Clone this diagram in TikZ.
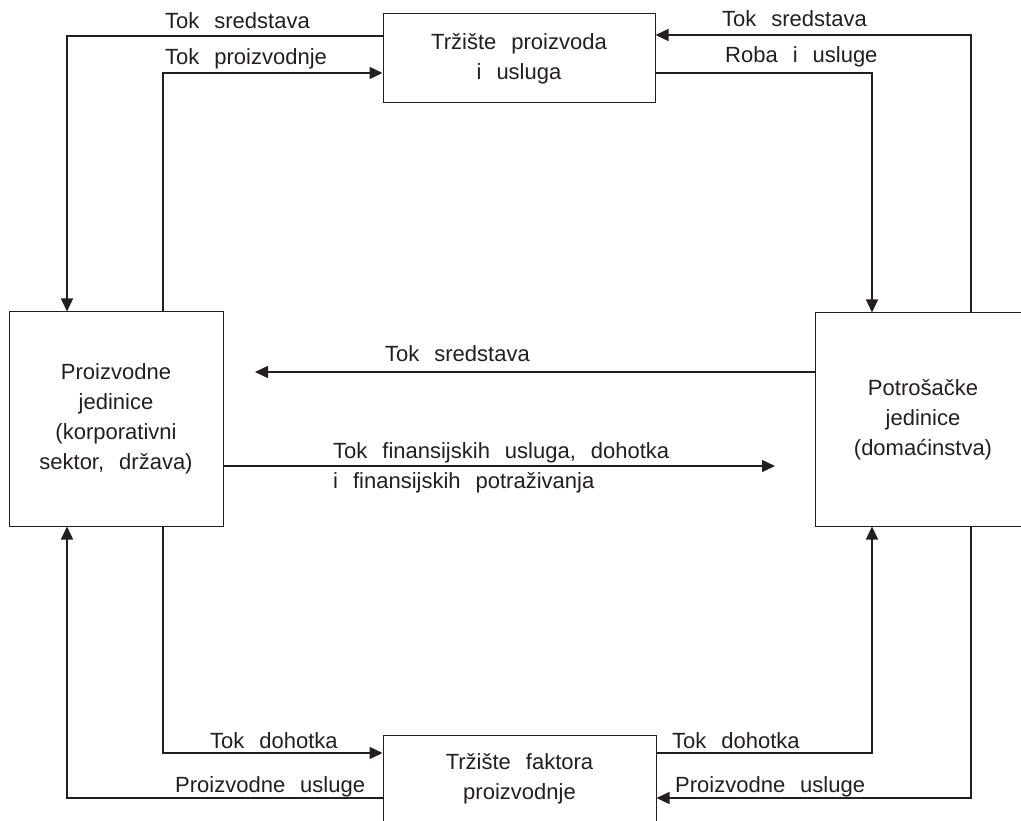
\documentclass[tikz,border=0pt]{standalone}
\usepackage{fontspec}
\setmainfont{Liberation Sans}
\usetikzlibrary{arrows.meta}
\definecolor{ink}{RGB}{35,31,32}
\newcommand\lbfont{\fontsize{22}{30}\selectfont\spaceskip=15pt\relax}
\begin{document}
\begin{tikzpicture}[x=1pt,y=-1pt,
  box/.style={draw=ink, line width=1pt, inner sep=0pt, align=center, font=\lbfont, text=ink},
  flow/.style={draw=ink, line width=1.4pt, -{Triangle[length=13pt,width=12pt]}},
  lbl/.style={anchor=base west, inner sep=0pt, font=\lbfont, text=ink}]
\useasboundingbox (0,0) rectangle (1021,821);
\clip (0,0) rectangle (1021,821);
\fill[white] (0,0) rectangle (1021,821);
% boxes
\node[box, minimum width=272pt, minimum height=89pt] (tp) at (519,58.5) {Tržište proizvoda\\i usluga};
\node[box, minimum width=214pt, minimum height=214pt] (lf) at (116,419) {Proizvodne\\jedinice\\(korporativni\\sektor, država)};
\node[box, minimum width=216pt, minimum height=213pt] (rt) at (923,419.5) {Potrošačke\\jedinice\\(domaćinstva)};
\node[box, minimum width=273pt, minimum height=88pt] (bt) at (519.5,779) {Tržište faktora\\proizvodnje};
% routing coordinates
\coordinate (xL1) at (67,36);
\coordinate (xL2) at (163,73);
\coordinate (xR1) at (971,35);
\coordinate (xR2) at (872,73);
\coordinate (m1) at (255,372);
\coordinate (m2) at (775,466);
\coordinate (xL3) at (163,753);
\coordinate (xL4) at (67,798);
\coordinate (xR3) at (872,753);
\coordinate (xR4) at (971,798);
% connectors
\draw[flow] (tp.west |- xL1) -| (lf.north -| xL1);
\draw[flow] (lf.north -| xL2) |- (tp.west |- xL2);
\draw[flow] (rt.north -| xR1) |- (tp.east |- xR1);
\draw[flow] (tp.east |- xR2) -| (rt.north -| xR2);
\draw[flow] (rt.west |- m1) -- (m1);
\draw[flow] (lf.east |- m2) -- (m2);
\draw[flow] (lf.south -| xL3) |- (bt.west |- xL3);
\draw[flow] (bt.west |- xL4) -| (lf.south -| xL4);
\draw[flow] (bt.east |- xR3) -| (rt.south -| xR3);
\draw[flow] (rt.south -| xR4) |- (bt.east |- xR4);
% labels
\node[lbl] (l1) at (165,29) {Tok sredstava};
\node[lbl] (l2) at (165,65) {Tok proizvodnje};
\node[lbl] (l3) at (722,27) {Tok sredstava};
\node[lbl] (l4) at (725,63) {Roba i usluge};
\node[lbl] (l5) at (385,362) {Tok sredstava};
\node[lbl] (l6) at (333,458) {Tok finansijskih usluga, dohotka};
\node[lbl] (l7) at (333,488) {i finansijskih potraživanja};
\node[lbl] (l8) at (210,748) {Tok dohotka};
\node[lbl] (l9) at (175,792) {Proizvodne usluge};
\node[lbl] (l10) at (672,748) {Tok dohotka};
\node[lbl] (l11) at (675,792) {Proizvodne usluge};
\end{tikzpicture}
\end{document}
